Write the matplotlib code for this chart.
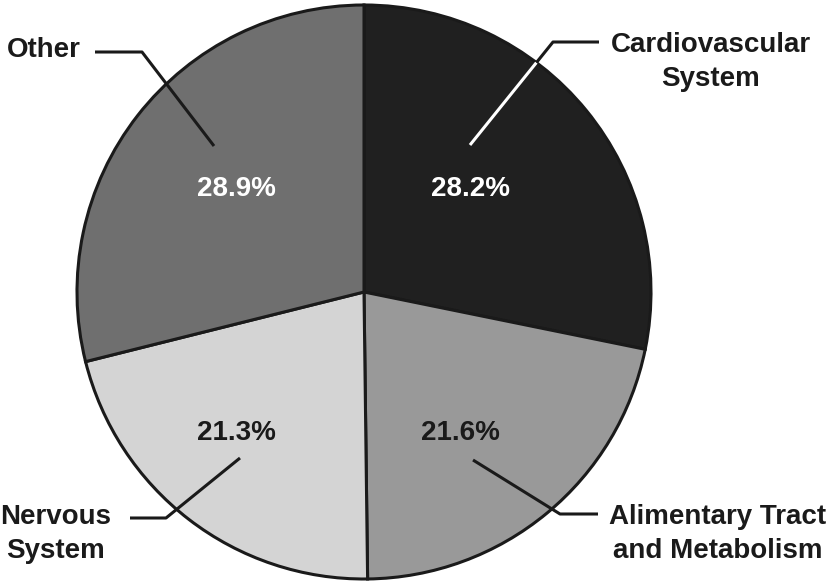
import numpy as np
import matplotlib
matplotlib.use('Agg')
import matplotlib.pyplot as plt

plt.rcParams['font.family'] = ['Liberation Sans', 'DejaVu Sans']

# data
labels = ['Cardiovascular\nSystem', 'Alimentary Tract\nand Metabolism', 'Nervous\nSystem', 'Other']
values = [28.2, 21.6, 21.3, 28.9]
colors = ['#202020', '#999999', '#d4d4d4', '#6f6f6f']
pct_colors = ['white', '#1a1a1a', '#1a1a1a', 'white']

# layout, in pixels of the 829x581 picture
W, H = 829, 581
cx, cy, R = 364, 292, 287
pct_pos = [(470, 189), (460, 433), (236, 433), (236, 189)]
label_pos = [(711, 62), (718, 534), (56, 534), (7, 50)]
label_ha = ['center', 'center', 'center', 'left']
leaders = [[(470, 145), (553, 42), (599, 42)],
           [(473, 460), (560, 514), (598, 514)],
           [(240, 458), (166, 518), (130, 518)],
           [(214, 146), (142, 52), (95, 52)]]
inside_color = ['white', '#1a1a1a', '#1a1a1a', '#1a1a1a']


def to_data(p):
    return ((p[0] - cx) / R, (cy - p[1]) / R)


fig = plt.figure(figsize=(W / 100, H / 100), dpi=100)
ax = fig.add_axes([0, 0, 1, 1])
ax.pie(values, colors=colors, startangle=90, counterclock=False, radius=1,
       wedgeprops=dict(edgecolor='#1a1a1a', linewidth=2.2))
ax.set_xlim(-cx / R, (W - cx) / R)
ax.set_ylim(-(H - cy) / R, cy / R)
ax.set_aspect('auto')
ax.axis('off')

for i in range(4):
    x, y = to_data(pct_pos[i])
    ax.text(x, y, f'{values[i]:.1f}%', ha='center', va='center', fontsize=20,
            fontweight='bold', color=pct_colors[i])
    x, y = to_data(label_pos[i])
    ax.text(x, y, labels[i], ha=label_ha[i], va='center', fontsize=20,
            fontweight='bold', color='#1a1a1a', multialignment='center',
            linespacing=1.38)

    pts = np.array([to_data(p) for p in leaders[i]])
    # split first segment where it leaves the pie
    p0, p1 = pts[0], pts[1]
    d = p1 - p0
    a = d @ d
    b = 2 * p0 @ d
    c = p0 @ p0 - 1
    t = (-b + np.sqrt(b * b - 4 * a * c)) / (2 * a)
    pe = p0 + t * d
    ax.plot([p0[0], pe[0]], [p0[1], pe[1]], color=inside_color[i], lw=2.2,
            solid_capstyle='butt')
    ax.plot([pe[0], p1[0], pts[2][0]], [pe[1], p1[1], pts[2][1]],
            color='#1a1a1a', lw=2.2, solid_capstyle='butt')

fig.savefig('out.png', dpi=100)
